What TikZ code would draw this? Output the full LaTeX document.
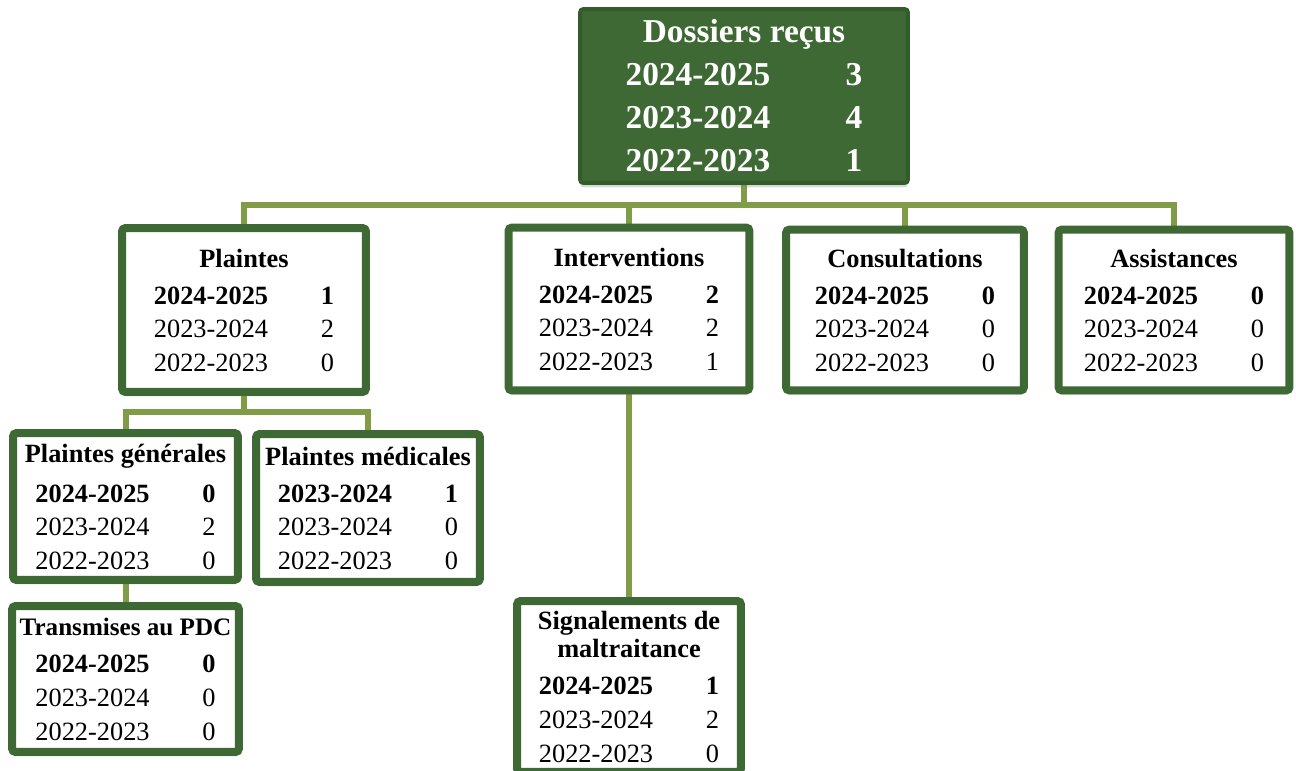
\documentclass[tikz,border=0pt]{standalone}
\usepackage{fontspec}
\setmainfont{Liberation Serif}
\usepackage{xcolor}
\usetikzlibrary{positioning}
\usetikzlibrary{shadows,backgrounds}

\definecolor{vertfonce}{RGB}{62,105,52}
\definecolor{vertbord}{RGB}{52,92,43}
\definecolor{vertlien}{RGB}{128,156,70}

\tikzset{
  bloc/.style={draw=vertfonce, line width=0.16cm, fill=white, rounded corners=2pt,
    inner sep=0pt, align=center, font=\fontsize{15}{16}\selectfont\bfseries,
    drop shadow={opacity=0.3, shadow xshift=0pt, shadow yshift=-2.5pt}},
  racine/.style={bloc, draw=vertbord, fill=vertfonce, text=white, line width=0.08cm,
    font=\fontsize{19}{24.5}\selectfont\bfseries},
  lien/.style={draw=vertlien, line width=0.12cm}
}

\newcommand{\chiffres}[4]{\def\arraystretch{1.2}%
  \raisebox{0pt}[\height][\dimexpr\depth-6pt\relax]{%
  \begin{tabular}[t]{@{}l@{\hspace{30pt}}c@{}}
    #1 & #2\\
    \mdseries 2023-2024 & \mdseries #3\\
    \mdseries 2022-2023 & \mdseries #4
  \end{tabular}}}

\begin{document}
\begin{tikzpicture}[x=0.02cm, y=-0.02cm]
  \useasboundingbox (0,0) rectangle (1296,771);
  % niveau 0
  \node[racine, minimum width=6.56cm, minimum height=3.48cm] (dossiers) at (744,96)
    {Dossiers reçus\\\raisebox{0pt}[\height][\dimexpr\depth-7pt\relax]{%
      \begin{tabular}[t]{@{}l@{\hspace{43pt}}c@{}}
      2024-2025 & 3\\ 2023-2024 & 4\\ 2022-2023 & 1\end{tabular}}};
  % niveau 1
  \node[bloc, minimum width=4.88cm, minimum height=3.28cm] (plaintes) at (244,310)
    {Plaintes\\[5pt]\chiffres{2024-2025}{1}{2}{0}};
  \node[bloc, minimum width=4.82cm, minimum height=3.26cm] (interventions) at (629,309)
    {Interventions\\[5pt]\chiffres{2024-2025}{2}{2}{1}};
  \node[bloc, minimum width=4.76cm, minimum height=3.22cm] (consultations) at (905,310)
    {Consultations\\[5pt]\chiffres{2024-2025}{0}{0}{0}};
  \node[bloc, minimum width=4.62cm, minimum height=3.22cm] (assistances) at (1174,310)
    {Assistances\\[5pt]\chiffres{2024-2025}{0}{0}{0}};
  % niveau 2
  \node[bloc, minimum width=4.50cm, minimum height=2.94cm] (generales) at (125.5,506.5)
    {Plaintes générales\\[5pt]\chiffres{2024-2025}{0}{2}{0}};
  \node[bloc, minimum width=4.48cm, minimum height=2.96cm] (medicales) at (368,508)
    {Plaintes médicales\\[5pt]\chiffres{2023-2024}{1}{0}{0}};
  \node[bloc, minimum width=4.54cm, minimum height=2.92cm] (pdc) at (125.5,679)
    {{\fontsize{14.3}{16}\selectfont Transmises au PDC}\\[5pt]\chiffres{2024-2025}{0}{0}{0}};
  \node[bloc, minimum width=4.48cm, minimum height=3.42cm] (signalements) at (629,686.5)
    {Signalements de\\maltraitance\\[5pt]\chiffres{2024-2025}{1}{2}{0}};
  % liens
  \coordinate (bus) at (744,205);
  \coordinate (busplaintes) at (244,412);
  \begin{scope}[on background layer]
    \draw[lien] (dossiers) -- (bus);
    \draw[lien] (bus) -| (plaintes);
    \draw[lien] (bus) -| (interventions);
    \draw[lien] (bus) -| (consultations);
    \draw[lien] (bus) -| (assistances);
    \draw[lien] (plaintes) -- (busplaintes);
    \draw[lien] (busplaintes) -| (generales);
    \draw[lien] (busplaintes) -| (medicales);
    \draw[lien] (generales) -- (pdc);
    \draw[lien] (interventions) -- (signalements);
  \end{scope}
\end{tikzpicture}
\end{document}
